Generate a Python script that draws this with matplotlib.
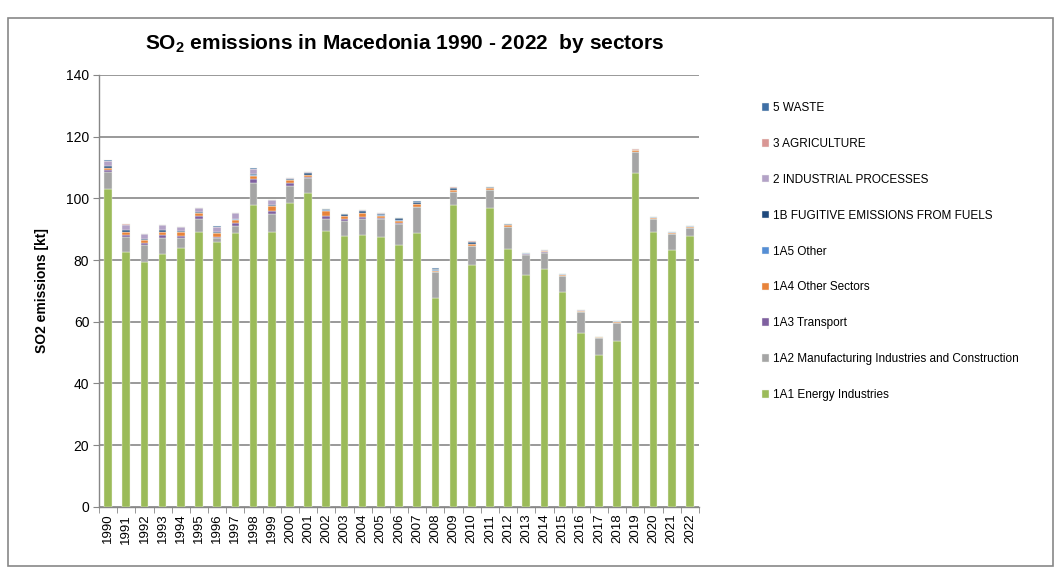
import numpy as np
import matplotlib
matplotlib.use('Agg')
import matplotlib.pyplot as plt
from matplotlib.patches import Rectangle

plt.rcParams['font.family'] = ['Liberation Sans', 'DejaVu Sans']
plt.rcParams['mathtext.fontset'] = 'custom'
plt.rcParams['mathtext.rm'] = 'Liberation Sans'
plt.rcParams['mathtext.bf'] = 'Liberation Sans:bold'

years = [str(y) for y in range(1990, 2023)]

# SO2 emissions by sector [kt]
energy = [103.1, 82.6, 79.4, 82.1, 84.0, 89.1, 85.9, 88.7, 97.7, 89.2, 98.6,
          101.6, 89.5, 87.9, 88.2, 87.5, 85.0, 88.6, 67.8, 97.8, 78.4, 97.0,
          83.5, 75.2, 77.1, 69.7, 56.4, 49.3, 53.9, 108.1, 89.1, 83.4, 87.9]
manufacturing = [5.4, 4.9, 5.4, 5.1, 3.2, 4.1, 1.2, 2.4, 7.3, 5.8, 5.3,
                 4.9, 3.7, 4.7, 5.2, 5.7, 6.8, 8.5, 8.2, 4.2, 6.1, 5.7,
                 7.2, 6.5, 5.3, 5.0, 6.6, 5.3, 5.6, 6.9, 4.1, 5.0, 2.4]
transport = [0.6, 0.6, 0.7, 1.0, 0.7, 1.1, 0.5, 0.9, 1.1, 0.9, 1.1,
             0.5, 1.1, 0.6, 0.5, 0.3, 0.1, 0.1, 0.1, 0.1, 0.1, 0.1,
             0.1, 0.1, 0.1, 0.1, 0.1, 0.1, 0.1, 0.1, 0.1, 0.1, 0.1]
other_sectors = [0.6, 1.0, 1.0, 0.9, 1.2, 1.0, 1.0, 1.1, 1.1, 1.6, 0.8,
                 0.6, 1.6, 1.1, 1.2, 0.9, 0.9, 0.9, 0.5, 0.6, 0.6, 0.4,
                 0.5, 0.3, 0.4, 0.5, 0.4, 0.2, 0.3, 0.4, 0.4, 0.4, 0.3]
other_1a5 = [0.2, 0.1, 0.1, 0.1, 0.1, 0.1, 0.1, 0.1, 0.5, 0.1, 0.1,
             0.1, 0.4, 0.1, 0.1, 0.1, 0.1, 0.1, 0.1, 0.1, 0.1, 0.1,
             0.2, 0.1, 0.1, 0.1, 0.1, 0.1, 0.2, 0.2, 0.1, 0.1, 0.2]
fugitive = [0.6, 0.6, 0.2, 0.5, 0.1, 0.1, 0.3, 0.1, 0.1, 0.3, 0.5,
            0.5, 0.1, 0.4, 0.8, 0.5, 0.6, 0.6, 0.4, 0.6, 0.6, 0.3,
            0.1, 0.0, 0.0, 0.0, 0.0, 0.0, 0.0, 0.0, 0.0, 0.0, 0.0]
industrial = [1.7, 1.7, 1.7, 1.5, 1.3, 1.4, 1.8, 2.0, 1.8, 1.5, 0.2,
              0.2, 0.2, 0.2, 0.1, 0.1, 0.1, 0.1, 0.1, 0.1, 0.1, 0.1,
              0.1, 0.1, 0.1, 0.1, 0.1, 0.1, 0.1, 0.1, 0.1, 0.1, 0.1]
agriculture = [0.05] * 33
waste = [0.02] * 33

labels = ['1A1 Energy Industries', '1A2 Manufacturing Industries and Construction',
          '1A3 Transport', '1A4 Other Sectors', '1A5 Other',
          '1B FUGITIVE EMISSIONS FROM FUELS', '2 INDUSTRIAL PROCESSES',
          '3 AGRICULTURE', '5 WASTE']
series = [energy, manufacturing, transport, other_sectors, other_1a5,
          fugitive, industrial, agriculture, waste]
colors = ['#9BBB59', '#A5A5A5', '#7F60A0', '#E8833A', '#558ED5',
          '#1F497D', '#B3A2C7', '#D99694', '#3F6FA5']

fig = plt.figure(figsize=(10.6, 5.76), dpi=100)
ax = fig.add_axes([0.0934, 0.12, 0.566, 0.75])

x = np.arange(len(years))
bottom = np.zeros(len(years))
handles = []
for vals, lab, col in zip(series, labels, colors):
    b = ax.bar(x, vals, 0.42, bottom=bottom, color=col, label=lab,
               edgecolor='#f2f4ee', linewidth=0.3, zorder=3)
    handles.append(b)
    bottom += np.array(vals)

ax.set_xlim(-0.5, len(years) - 0.5)
ax.set_ylim(0, 140)
ax.set_yticks(range(0, 141, 20))
ax.set_xticks(x)
ax.set_xticklabels(years, rotation=90, fontsize=9.5)
ax.set_xticks(np.arange(-0.5, len(years), 1), minor=True)
ax.tick_params(axis='x', which='major', length=0, pad=5)
ax.tick_params(axis='x', which='minor', length=4, color='#878787')
ax.tick_params(axis='y', length=4, color='#878787', labelsize=10, pad=3)
ax.grid(axis='y', color='#878787', linewidth=1.2, zorder=0)
ax.set_axisbelow(True)
for s in ['top', 'right']:
    ax.spines[s].set_visible(False)
for s in ['left', 'bottom']:
    ax.spines[s].set_color('#878787')
    ax.spines[s].set_linewidth(1.0)

ax.set_ylabel('SO2 emissions [kt]', fontsize=10, fontweight='bold', labelpad=12)
fig.text(0.382, 0.925, r'SO$_\mathbf{2}$ emissions in Macedonia 1990 - 2022  by sectors',
         ha='center', va='center', fontsize=15, fontweight='bold')

ax.legend(handles[::-1], labels[::-1], loc='upper left',
          bbox_to_anchor=(0.709, 0.841), bbox_transform=fig.transFigure,
          frameon=False, fontsize=8.5, labelspacing=2.02,
          handlelength=0.6, handleheight=0.6, handletextpad=0.3)

fig.patches.append(Rectangle((0.0075, 0.017), 0.986, 0.952, transform=fig.transFigure,
                             fill=False, edgecolor='#878787', linewidth=1.2))

fig.savefig('out.png', dpi=100)
